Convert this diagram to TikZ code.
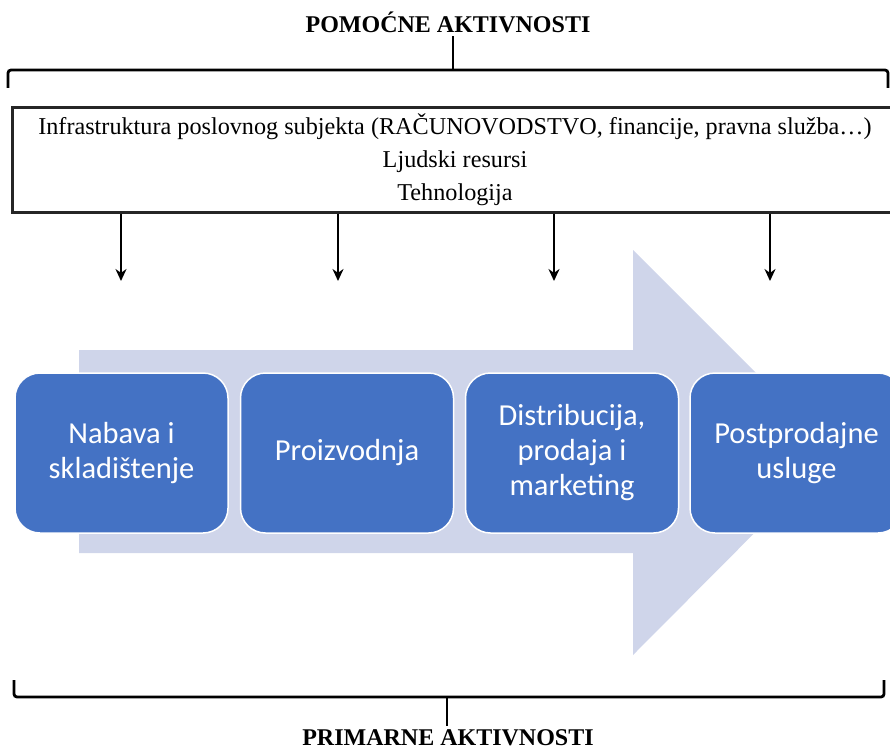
\documentclass[tikz,border=0pt]{standalone}
\usepackage{tikz}
\usepackage{xcolor}
\usepackage{fontspec}
\setmainfont{Liberation Serif}
\newfontfamily\calibri{Carlito}
\usetikzlibrary{arrows.meta}

\definecolor{actblue}{HTML}{4472C4}
\definecolor{flowblue}{HTML}{CFD5EA}

\begin{document}
\begin{tikzpicture}[x=1pt,y=-1pt]
    \tikzstyle{act}=[rectangle,rounded corners=25pt,fill=actblue,draw=white,line width=1.5pt,
        text=white,font=\calibri\fontsize{30.5}{35}\selectfont,align=center,
        minimum width=213pt,minimum height=160pt,inner sep=0pt]
    \tikzstyle{support}=[rectangle,draw=black!85,line width=3pt,align=center,
        font=\fontsize{24.2}{33}\selectfont,minimum width=886pt,minimum height=104pt,inner sep=0pt]
    \tikzstyle{brace}=[line width=2.8pt,rounded corners=3pt]
    \tikzstyle{down}=[-{Stealth[length=12pt,width=11pt]},line width=2.8pt]
    \tikzstyle{title}=[font=\bfseries\fontsize{24}{28}\selectfont]

    \clip (0,0) rectangle (890,754);

    % Big arrow in the back
    \fill [flowblue] (79,350) -- (633,350) -- (633,250) -- (835,452)
        -- (633,655) -- (633,553) -- (79,553) -- cycle;

    % Pomocne aktivnosti
    \node [title] (ptitle) at (448,22) {POMOĆNE AKTIVNOSTI};
    \draw [brace] (8,88) -- (8,70) -- (888,70) -- (888,88);
    \draw [line width=2.8pt] (453,70) -- (ptitle.south -| 453,0);

    \node [support] (infra) at (455,160)
        {Infrastruktura poslovnog subjekta (RAČUNOVODSTVO, financije, pravna služba…)\\
         Ljudski resursi\\ Tehnologija};

    \coordinate (d1) at (121,281);
    \coordinate (d2) at (338,281);
    \coordinate (d3) at (554,281);
    \coordinate (d4) at (770,281);
    \draw [down] (infra.south -| d1) -- (d1);
    \draw [down] (infra.south -| d2) -- (d2);
    \draw [down] (infra.south -| d3) -- (d3);
    \draw [down] (infra.south -| d4) -- (d4);

    % Primarne aktivnosti
    \node [act] (nabava) at (121.5,453) {Nabava i\\ skladištenje};
    \node [act] (proizv) at (347,453) {Proizvodnja};
    \node [act] (distr) at (572,453) {Distribucija,\\ prodaja i\\ marketing};
    \node [act] (post) at (796.5,453) {Postprodajne\\ usluge};

    \node [title] (stitle) at (448,738) {PRIMARNE AKTIVNOSTI};
    \draw [brace] (14,680) -- (14,697) -- (884,697) -- (884,680);
    \draw [line width=2.8pt] (447,697) -- (stitle.north -| 447,0);
\end{tikzpicture}
\end{document}
